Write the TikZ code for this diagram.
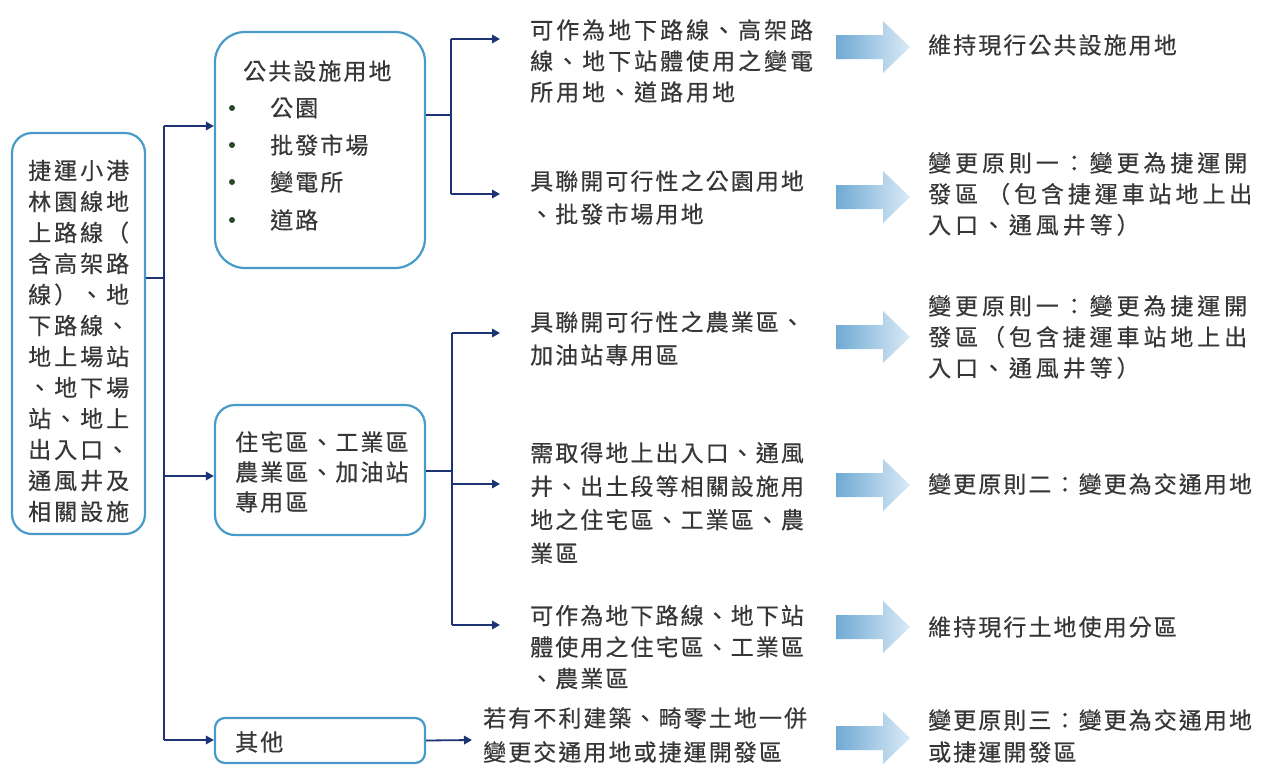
\documentclass[tikz,border=0pt]{standalone}
\usepackage{fontspec}
\setmainfont{Noto Sans CJK TC}
\newfontfamily\cjkA{Noto Sans CJK TC}[LetterSpace=9,FakeBold=0.4]
\newfontfamily\cjkB{Noto Sans CJK TC}[LetterSpace=13,FakeBold=0.4]
\newfontfamily\cjkC{Noto Sans CJK TC}[LetterSpace=17,FakeBold=0.4]
\usetikzlibrary{arrows.meta}
\definecolor{boxblue}{RGB}{72,155,200}
\definecolor{navy}{RGB}{28,52,118}
\definecolor{textgray}{RGB}{55,55,55}
\definecolor{bulletgreen}{RGB}{40,72,40}
\definecolor{arrL}{RGB}{112,170,212}
\definecolor{arrR}{RGB}{218,234,246}
\tikzset{
  box/.style={draw=boxblue, line width=2.2pt, inner sep=0pt},
  txt/.style={inner sep=0pt, align=left, anchor=west, text=textgray},
  fa/.style={font=\cjkA\fontsize{23}{31}\selectfont},
  fb/.style={font=\cjkB\fontsize{23}{31}\selectfont},
  fc/.style={font=\cjkC\fontsize{23}{31}\selectfont},
  link/.style={draw=navy, line width=1.8pt},
  conn/.style={draw=navy, line width=1.8pt, -{Triangle[length=8pt,width=8.5pt]}},
  dot/.style={circle, fill=bulletgreen, inner sep=0pt, minimum size=6pt},
}
\newcommand\blockarr[2]{%
  \shade[left color=arrL, right color=arrR] (836,#1-12) -- (883,#1-12) -- (883,#1-26)
    -- (910,#1) -- (883,#1+26) -- (883,#1+12) -- (836,#1+12) -- cycle;
  \coordinate (#2) at (910,#1);}
\begin{document}
\begin{tikzpicture}[x=1pt,y=-1pt]
\useasboundingbox (0,0) rectangle (1261,766);
\fill[white] (0,0) rectangle (1261,766);

% boxes
\node[box, rounded corners=20pt, minimum width=133pt, minimum height=401pt] (root) at (78.5,333.5) {};
\node[box, rounded corners=30pt, minimum width=210pt, minimum height=236pt] (box1) at (320,150) {};
\node[box, rounded corners=20pt, minimum width=210pt, minimum height=130pt] (box2) at (320,470) {};
\node[box, rounded corners=10pt, minimum width=210pt, minimum height=45pt] (box3) at (320,740.5) {};

% root text
\node[txt, fb] (roottxt) at (28,341) {捷運小港\\林園線地\\上路線（\\含高架路\\線）、地\\下路線、\\地上場站\\、地下場\\站、地上\\出入口、\\通風井及\\相關設施};

% box1 text
\node[txt, fa] (b1title) at (243,71) {公共設施用地};
\node[dot] (d1) at (232,108) {};
\node[dot] (d2) at (232,145) {};
\node[dot] (d3) at (232,182) {};
\node[dot] (d4) at (232,220) {};
\node[txt, fa] (b1i1) at (270,108) {公園};
\node[txt, fa] (b1i2) at (270,145) {批發市場};
\node[txt, fa] (b1i3) at (270,182) {變電所};
\node[txt, fa] (b1i4) at (270,220) {道路};

% box2 text
\node[txt, fa, font=\cjkA\fontsize{23}{30}\selectfont] (b2txt) at (235,472) {住宅區、工業區\\農業區、加油站\\專用區};
% box3 text
\node[txt, fa] (b3txt) at (235,742) {其他};

% column 2 texts
\node[txt, fb] (t1) at (530,61) {可作為地下路線、高架路\\線、地下站體使用之變電\\所用地、道路用地};
\node[txt, fa, font=\cjkA\fontsize{23}{33}\selectfont] (t2) at (530,197.5) {具聯開可行性之公園用地\\、批發市場用地};
\node[txt, fa, font=\cjkA\fontsize{23}{33}\selectfont] (t3) at (530,338.5) {具聯開可行性之農業區、\\加油站專用區};
\node[txt, fa, font=\cjkA\fontsize{23}{33.5}\selectfont] (t4) at (530,503) {需取得地上出入口、通風\\井、出土段等相關設施用\\地之住宅區、工業區、農\\業區};
\node[txt, fa, font=\cjkA\fontsize{23}{31.5}\selectfont] (t5) at (530,647) {可作為地下路線、地下站\\體使用之住宅區、工業區\\、農業區};
\node[txt, fa, font=\cjkA\fontsize{23}{34}\selectfont] (t6) at (483,735) {若有不利建築、畸零土地一併\\變更交通用地或捷運開發區};

% column 3 texts
\node[txt, fa] (r1) at (928,45) {維持現行公共設施用地};
\node[txt, fc] (r2) at (928,194) {變更原則一：變更為捷運開\\發區 （包含捷運車站地上出\\入口、通風井等）};
\node[txt, fc] (r3) at (928,337) {變更原則一：變更為捷運開\\發區（包含捷運車站地上出\\入口、通風井等）};
\node[txt, fa] (r4) at (928,484) {變更原則二：變更為交通用地};
\node[txt, fa] (r5) at (928,627) {維持現行土地使用分區};
\node[txt, fa, font=\cjkA\fontsize{23}{32}\selectfont] (r6) at (928,736) {變更原則三：變更為交通用地\\或捷運開發區};

% block arrows
\blockarr{47}{ba1}
\blockarr{197}{ba2}
\blockarr{337}{ba3}
\blockarr{485}{ba4}
\blockarr{627}{ba5}
\blockarr{738}{ba6}

% trunk from root
\coordinate (j0) at (164,278);
\coordinate (k1) at (164,126);
\coordinate (k2) at (164,476);
\coordinate (k3) at (164,740);
\draw[link] (root.east |- j0) -- (j0);
\draw[link] (k1) -- (k3);
\draw[conn] (k1) -- (box1.west |- k1);
\draw[conn] (k2) -- (box2.west |- k2);
\draw[conn] (k3) -- (box3.west |- k3);

% box1 branches
\coordinate (j1) at (451,115);
\coordinate (m1) at (451,39);
\coordinate (m2) at (451,194);
\coordinate (e1) at (500,39);
\coordinate (e2) at (500,194);
\draw[link] (box1.east |- j1) -- (j1);
\draw[link] (m1) -- (m2);
\draw[conn] (m1) -- (e1);
\draw[conn] (m2) -- (e2);

% box2 branches
\coordinate (j2) at (452,471);
\coordinate (n1) at (452,333);
\coordinate (n2) at (452,484);
\coordinate (n3) at (452,625);
\coordinate (f1) at (500,333);
\coordinate (f2) at (500,484);
\coordinate (f3) at (500,625);
\draw[link] (box2.east |- j2) -- (j2);
\draw[link] (n1) -- (n3);
\draw[conn] (n1) -- (f1);
\draw[conn] (n2) -- (f2);
\draw[conn] (n3) -- (f3);

% box3 branch
\coordinate (g1) at (472,740);
\draw[conn] (box3.east) -- (g1);
\end{tikzpicture}
\end{document}
